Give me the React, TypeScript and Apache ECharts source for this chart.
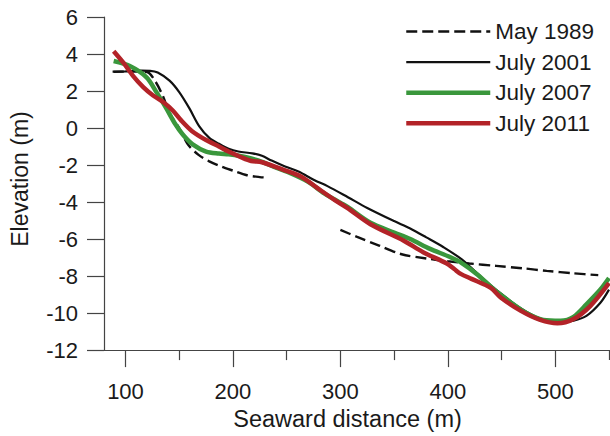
import React, { useEffect, useRef } from "react";
import * as echarts from "echarts";

const seriesNames = ["May 1989", "July 2001", "July 2007", "July 2011"];

const dist1989 = [88, 100, 110, 120, 128, 135, 141, 150, 158, 168, 178, 190, 200, 213, 225, 233, 266, 300, 315, 336, 357, 380, 400, 420, 445, 470, 492, 517, 540];
const elev1989: (number | string)[] = [3.05, 3.05, 3.05, 3.03, 2.5, 1.7, 0.8, 0.0, -0.88, -1.45, -1.8, -2.1, -2.3, -2.55, -2.65, -2.68, "-", -5.5, -5.87, -6.35, -6.82, -7.05, -7.2, -7.32, -7.45, -7.58, -7.72, -7.85, -7.95];

const dist2001 = [89, 100, 115, 123, 130, 141, 150, 159.5, 168.7, 178, 187, 196, 205, 218, 227, 236, 248.5, 261, 276, 288, 307, 325, 350, 365, 380, 396, 413, 431, 449.5, 468, 486, 502, 517, 529, 542, 550];
const elev2001 = [3.04, 3.06, 3.1, 3.09, 3.0, 2.56, 1.94, 1.06, 0.09, -0.53, -0.85, -1.12, -1.27, -1.37, -1.5, -1.76, -2.08, -2.35, -2.82, -3.14, -3.74, -4.32, -5.03, -5.43, -5.91, -6.44, -7.1, -8.05, -8.95, -9.75, -10.3, -10.53, -10.41, -10.15, -9.44, -8.73];

const dist2007 = [89, 104, 119.6, 128.8, 138, 145.7, 153.3, 162.5, 175, 187, 196, 205.5, 224, 239, 254.6, 270, 285, 300.6, 307, 328, 350, 365, 383.5, 402, 413, 428, 443, 459, 474, 489, 505, 517, 529, 542, 550];
const elev2007 = [3.62, 3.35, 2.74, 1.94, 1.06, 0.27, -0.35, -0.88, -1.27, -1.38, -1.42, -1.5, -1.76, -2.12, -2.47, -2.91, -3.53, -4.06, -4.28, -5.12, -5.65, -6.0, -6.53, -6.97, -7.3, -7.94, -8.73, -9.44, -10.02, -10.37, -10.41, -10.2, -9.53, -8.73, -8.11];

const dist2011 = [89, 98, 107, 116.5, 125.7, 135, 144, 152, 162, 175, 187, 196, 208.5, 217, 227, 248.5, 264, 279, 294.5, 306, 328, 359, 377, 399, 406, 412, 422, 440, 449.5, 468, 486, 502, 517, 532.5, 550];
const elev2011 = [4.15, 3.53, 2.82, 2.21, 1.76, 1.41, 0.95, 0.4, -0.17, -0.65, -1.0, -1.27, -1.6, -1.78, -1.85, -2.29, -2.65, -3.26, -3.88, -4.3, -5.2, -6.09, -6.71, -7.32, -7.62, -7.88, -8.15, -8.64, -9.17, -9.88, -10.37, -10.55, -10.32, -9.62, -8.38];

const xMajorTicks = [100, 200, 300, 400, 500];
const xMinorTicks = [150, 250, 350, 450, 550];

const seriesColors = ["#111", "#111", "#3a973c", "#b32328"];
const seriesWidths = [2.4, 2.2, 4.5, 4.5];

const zip = (xs: number[], ys: (number | string)[]) => xs.map((x, i) => [x, ys[i]]);

const FONT = "'Liberation Sans', Arial, Helvetica, sans-serif";
const TXT = "#1a1a1a";
const AX = "#444";

export default function App() {
  const ref = useRef<HTMLDivElement>(null);
  useEffect(() => {
    if (!ref.current) return;
    const chart = echarts.init(ref.current, undefined, { renderer: "svg" });
    chart.setOption({
      animation: false,
      backgroundColor: "#fff",
      textStyle: { fontFamily: FONT },
      grid: { left: 99, right: 1, top: 17, bottom: 78.5, containLabel: false },
      legend: {
        orient: "vertical",
        left: 404,
        top: 20,
        padding: 0,
        itemWidth: 84,
        itemHeight: 1,
        itemGap: 7.6,
        data: seriesNames.map((name, i) => ({
          name,
          lineStyle: {
            color: seriesColors[i],
            width: seriesWidths[i],
            type: i === 0 ? [11, 5] : "solid",
          },
        })),
        itemStyle: { opacity: 0 },
        textStyle: { fontSize: 22.5, color: TXT, fontFamily: FONT, lineHeight: 22 },
      },
      xAxis: [
        {
          type: "value",
          min: 80,
          max: 550,
          name: "Seaward distance (m)",
          nameLocation: "middle",
          nameGap: 51,
          nameTextStyle: { fontSize: 23.5, color: TXT, fontFamily: FONT, padding: [0, 18, 0, 0] },
          axisLine: { show: true, onZero: false, lineStyle: { color: AX, width: 1.2 } },
          axisTick: { show: true, inside: false, length: 17, customValues: xMajorTicks, lineStyle: { color: AX, width: 1.2 } },
          axisLabel: { show: true, margin: 30, fontSize: 22, color: TXT, fontFamily: FONT, customValues: xMajorTicks },
          splitLine: { show: false },
        },
        {
          type: "value",
          min: 80,
          max: 550,
          position: "bottom",
          axisLine: { show: false, onZero: false },
          axisTick: { show: true, inside: false, length: 10, customValues: xMinorTicks, lineStyle: { color: AX, width: 1.2 } },
          axisLabel: { show: false },
          splitLine: { show: false },
        },
      ],
      yAxis: {
        type: "value",
        min: -12,
        max: 6,
        interval: 2,
        name: "Elevation (m)",
        nameLocation: "middle",
        nameGap: 73,
        nameTextStyle: { fontSize: 23, color: TXT, fontFamily: FONT, padding: [0, 0, 0, 9] },
        axisLine: { show: true, onZero: false, lineStyle: { color: AX, width: 1.2 } },
        axisTick: { show: true, inside: false, length: 17, lineStyle: { color: AX, width: 1.2 } },
        axisLabel: { margin: 26, fontSize: 22, color: TXT, fontFamily: FONT },
        splitLine: { show: false },
      },
      series: seriesNames.map((name, i) => {
        const data = [
          zip(dist1989, elev1989),
          zip(dist2001, elev2001),
          zip(dist2007, elev2007),
          zip(dist2011, elev2011),
        ][i];
        return {
          name,
          type: "line",
          data,
          symbol: "none",
          smooth: 0.3,
          connectNulls: false,
          lineStyle: { color: seriesColors[i], width: seriesWidths[i], type: i === 0 ? [11, 5] : "solid" },
          itemStyle: { color: seriesColors[i] },
        };
      }),
    });
    return () => chart.dispose();
  }, []);
  return (
    <div
      ref={ref}
      style={{ position: "absolute", left: 0, top: 0, width: 610, height: 436 }}
    />
  );
}
